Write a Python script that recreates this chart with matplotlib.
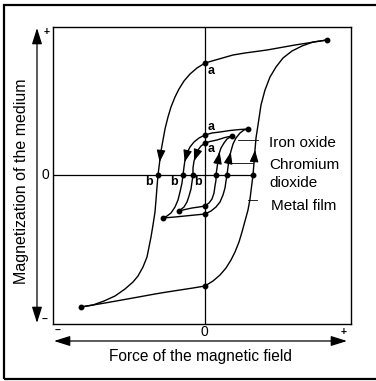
import numpy as np
import matplotlib
matplotlib.use("Agg")
import matplotlib.pyplot as plt
from matplotlib.patches import Rectangle, FancyArrowPatch

plt.rcParams['font.family'] = ['Liberation Sans', 'DejaVu Sans']

# ---- data (field H, magnetization M; arbitrary units) ----
metal_desc_H = [122, 90, 62, 40, 28, 14, 0, -8, -15, -21, -26, -30, -34, -37, -40, -42,
                -44, -45.5, -47, -48, -49, -50, -52, -54, -58, -62, -67, -72, -80, -90,
                -101, -112, -124]
metal_desc_M = [135, 130, 125, 122, 120, 116, 112, 107, 101, 94, 86, 78, 68, 58, 46, 35,
                24, 12, 0, -12, -25, -37, -50, -62, -82, -92, -101, -107, -114, -121,
                -126, -130, -132]
metal_asc_H = [-124, -100, -72, -50, -38, -25, -12, 0, 8, 15, 21, 26, 30, 34, 37, 40, 43,
               45, 46.5, 48, 49, 50, 51, 53, 56, 60, 65, 71, 78, 87, 97, 108, 122]
metal_asc_M = [-132, -128, -123, -119, -117, -115, -113, -111, -106, -100, -93, -85, -77,
               -67, -57, -46, -35, -24, -12, 0, 12, 25, 37, 50, 70, 85, 98, 108, 117, 124,
               129, 133, 135]

iron_desc_H = [43, 35, 25, 15, 7, 0, -6, -11, -15, -18, -20, -21, -22, -23, -25, -27, -30,
               -34, -38, -42]
iron_desc_M = [46, 45.5, 44.5, 43, 42, 40, 37, 33, 28, 22, 15, 8, 0, -8, -17, -25, -32,
               -38, -41, -43]
iron_asc_H = [-42, -30, -20, -10, 0, 6, 11, 15, 18, 20, 21, 22, 23, 24, 26, 28, 31, 35,
              39, 43]
iron_asc_M = [-43, -42, -41, -40, -39, -36, -32, -27, -20, -13, -6, 0, 8, 16, 24, 31, 37,
              42, 45, 46]

chrom_desc_H = [27, 20, 12, 5, 0, -4, -7, -9, -11, -12, -12, -13, -14, -16, -18, -21, -26]
chrom_desc_M = [39, 37.5, 35, 33.5, 32, 29, 25, 20, 14, 7, 0, -7, -14, -21, -27, -32, -36]
chrom_asc_H = [-26, -20, -13, -6, 0, 4, 7, 9, 10, 11, 11, 12, 13, 14, 16, 19, 22, 27]
chrom_asc_M = [-36, -34.5, -33, -32, -31, -28, -24, -18, -11, -5, 0, 7, 14, 21, 27, 32,
               36, 39]

# key points marked with dots: tips, remanence (a / H=0), coercivity (b / M=0)
dots_H = [122, 0, -47, -124, 0, 48,
          43, 0, -22, -42, 0, 22,
          27, 0, -12, -26, 0, 11]
dots_M = [135, 112, 0, -132, -111, 0,
          46, 40, 0, -43, -39, 0,
          39, 32, 0, -36, -31, 0]

# arrowhead positions (magnetization level of tip) on each branch
arrow_desc_M = [13, 13, 14]   # metal, iron, chromium
arrow_asc_M = [25, 23, 23]

a_labels_H = [3, 3, 3]
a_labels_M = [104, 48, 26]
b_labels_H = [-56, -31, -7]
b_labels_M = [-7, -7, -7]

fig = plt.figure(figsize=(3.76, 3.81), dpi=100)
W, Hh = 376, 381

def fx(px):
    return px / W

def fy(py):
    return 1 - py / Hh

# outer frame
fig.patches.append(Rectangle((fx(4), fy(379)), fx(390) - fx(4), fy(5) - fy(379),
                             transform=fig.transFigure, fill=False, lw=1.6, ec='black'))

ax = fig.add_axes([fx(53), fy(324), fx(351) - fx(53), fy(27) - fy(324)])
ax.set_xlim(-152, 146)
ax.set_ylim(-149, 148)
ax.set_xticks([])
ax.set_yticks([])
for s in ax.spines.values():
    s.set_linewidth(1.0)

lw = 1.0
ax.axvline(0, color='black', lw=0.9)
ax.plot([-152, 50], [0, 0], color='black', lw=0.9)

branches = [
    (metal_desc_H, metal_desc_M, metal_asc_H, metal_asc_M),
    (iron_desc_H, iron_desc_M, iron_asc_H, iron_asc_M),
    (chrom_desc_H, chrom_desc_M, chrom_asc_H, chrom_asc_M),
]
head = '-|>,head_length=0.6,head_width=0.22'
for i, (dh, dm, ah, am) in enumerate(branches):
    ax.plot(dh, dm, color='black', lw=lw, solid_joinstyle='round')
    ax.plot(ah, am, color='black', lw=lw, solid_joinstyle='round')
    # descending arrow (pointing down)
    mt = arrow_desc_M[i]
    dm_r = np.array(dm)[::-1]
    dh_r = np.array(dh)[::-1]
    ht = np.interp(mt, dm_r, dh_r)
    hs = np.interp(mt + 9, dm_r, dh_r)
    ax.annotate('', xy=(ht, mt), xytext=(hs, mt + 9),
                arrowprops=dict(arrowstyle=head, mutation_scale=12, color='black',
                                lw=0.8, shrinkA=0, shrinkB=0))
    # ascending arrow (pointing up)
    mt = arrow_asc_M[i]
    ht = np.interp(mt, am, ah)
    hs = np.interp(mt - 9, am, ah)
    ax.annotate('', xy=(ht, mt), xytext=(hs, mt - 9),
                arrowprops=dict(arrowstyle=head, mutation_scale=12, color='black',
                                lw=0.8, shrinkA=0, shrinkB=0))

ax.plot(dots_H, dots_M, 'o', color='black', ms=3.2, ls='none')

for h, m in zip(a_labels_H, a_labels_M):
    ax.text(h, m, 'a', fontsize=9, fontweight='bold', ha='left', va='center')
for h, m in zip(b_labels_H, b_labels_M):
    ax.text(h, m, 'b', fontsize=9, fontweight='bold', ha='center', va='center')

# leader lines and material labels
ax.plot([33, 53], [35, 35], color='black', lw=0.6)
ax.plot([24, 48], [12, 12], color='black', lw=0.6)
ax.plot([43, 52], [-25, -25], color='black', lw=0.6)
ax.text(64, 32, 'Iron oxide', fontsize=11, ha='left', va='center')
ax.text(64, 10, 'Chromium', fontsize=11, ha='left', va='center')
ax.text(64, -8, 'dioxide', fontsize=11, ha='left', va='center')
ax.text(66, -31, 'Metal film', fontsize=11, ha='left', va='center')

# axis arrows outside the box
arr_kw = dict(arrowstyle='<|-|>,head_length=0.7,head_width=0.22', mutation_scale=14,
              color='black', lw=0.9, shrinkA=0, shrinkB=0)
fig.patches.append(FancyArrowPatch((fx(37), fy(323)), (fx(37), fy(28)),
                                   transform=fig.transFigure, **arr_kw))
fig.patches.append(FancyArrowPatch((fx(54), fy(341)), (fx(347), fy(341)),
                                   transform=fig.transFigure, **arr_kw))

fig.text(fx(47), fy(32), '+', fontsize=7.5, fontweight='bold', ha='center', va='center')
fig.text(fx(45), fy(320), '–', fontsize=7.5, fontweight='bold', ha='center', va='center')
fig.text(fx(45), fy(175), '0', fontsize=10, ha='center', va='center')
fig.text(fx(58), fy(331), '–', fontsize=7.5, fontweight='bold', ha='center', va='center')
fig.text(fx(204), fy(332), '0', fontsize=10, ha='center', va='center')
fig.text(fx(344), fy(332), '+', fontsize=7.5, fontweight='bold', ha='center', va='center')

fig.text(fx(22), fy(181), 'Magnetization of the medium', fontsize=11.5,
         rotation=90, ha='center', va='center')
fig.text(fx(200), fy(356), 'Force of the magnetic field', fontsize=11.2,
         ha='center', va='center')

fig.savefig('out.png', dpi=100)
